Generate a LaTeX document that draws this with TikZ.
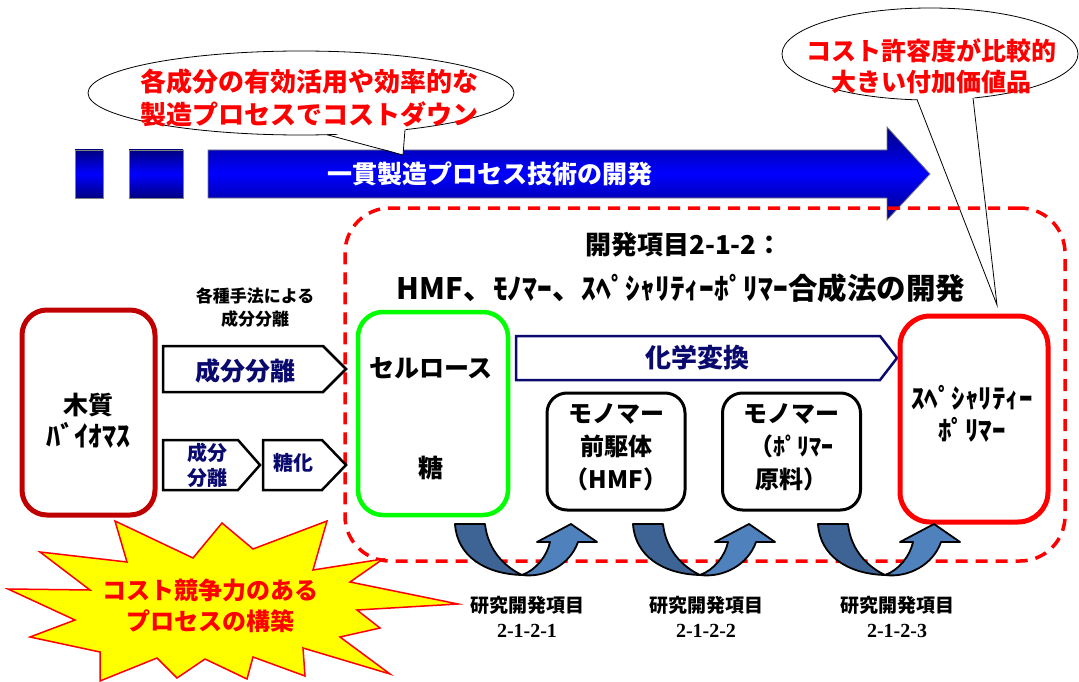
\documentclass[tikz,border=0pt]{standalone}
\usepackage{fontspec}
\setmainfont{Noto Sans CJK JP}
\newfontfamily\numfont{Liberation Serif}
\usetikzlibrary{shapes.geometric}
\definecolor{navytxt}{RGB}{10,10,110}
\definecolor{woodred}{RGB}{192,0,0}
\definecolor{bgreen}{RGB}{0,255,0}
\definecolor{arrowdark}{RGB}{62,100,150}
\definecolor{arrowlight}{RGB}{79,129,189}
\definecolor{bluedark}{RGB}{0,0,130}
\definecolor{bluemid}{RGB}{0,0,255}
\definecolor{staryellow}{RGB}{255,255,0}
\newcommand\fz[2]{\fontsize{#1}{#2}\selectfont\bfseries}
\tikzset{
  txt/.style={inner sep=0pt, align=center},
  rbox/.style={fill=white, inner sep=0pt},
  pentagon/.style={draw=black, fill=white, line width=2.5pt, line join=miter},
  bluebar/.style={shade, top color=bluedark, bottom color=bluedark, middle color=bluemid, draw=gray, line width=0.8pt},
  bubble/.style={ellipse, draw=black, fill=white, line width=0.8pt, inner sep=0pt},
  uturn/.style={draw=black, line width=1.8pt, line join=round},
}
\begin{document}
\begin{tikzpicture}[x=1pt,y=-1pt]
\useasboundingbox (0,0) rectangle (1079,682);

% ---------- blue process arrow ----------
\path[bluebar] (75,150) rectangle (103,198);
\path[bluebar] (129,150) rectangle (183,198);
\path[bluebar] (208,150) -- (887,150) -- (887,127) -- (930,174) -- (887,220) -- (887,198) -- (208,198) -- cycle;
\node[txt, white, font=\fz{25}{30}] (flow) at (490,174) {一貫製造プロセス技術の開発};

% ---------- right callout ----------
\node[bubble, minimum width=296pt, minimum height=92pt] (bubbleB) at (930,54) {};
\coordinate (tailBa) at (917,99.5);
\coordinate (tailBt) at (997,305);
\coordinate (tailBb) at (973,98);
\fill[white] (916,96) -- (tailBt) -- (974,94) -- cycle;
\draw[line width=0.8pt, line join=miter] (tailBa) -- (tailBt) -- (tailBb);
\node[txt, red, font=\fz{25}{31}] (bubbleBtxt) at (931,66) {コスト許容度が比較的\\大きい付加価値品};

% ---------- dashed development frame ----------
\node[draw=red, line width=3.5pt, dash pattern=on 12pt off 8pt, rounded corners=45pt,
      minimum width=720pt, minimum height=353pt, inner sep=0pt] (frame) at (705,384.5) {};

% ---------- left callout ----------
\node[bubble, minimum width=426pt, minimum height=84pt] (bubbleA) at (301,93) {};
\coordinate (tailAa) at (327,134.7);
\coordinate (tailAt) at (403,155);
\coordinate (tailAb) at (405,129.7);
\fill[white] (326,131) -- (tailAt) -- (406,126) -- cycle;
\draw[line width=0.8pt, line join=miter] (tailAa) -- (tailAt) -- (tailAb);
\node[txt, red, font=\fz{26}{33}] (bubbleAtxt) at (309,98) {各成分の有効活用や効率的な\\製造プロセスでコストダウン};

% ---------- title ----------
\node[txt, font=\fz{26}{32}] (title1) at (684,245) {開発項目2-1-2：};
\node[txt, font=\fz{29.5}{34}] (title2) at (681,288) {HMF、ﾓﾉﾏｰ、ｽﾍﾟｼｬﾘﾃｨｰﾎﾟﾘﾏｰ合成法の開発};

% ---------- wood biomass ----------
\node[rbox, draw=woodred, line width=5pt, rounded corners=25pt, minimum width=133pt, minimum height=205pt] (wood) at (88.5,412.5) {};
\node[txt, font=\fz{25}{32}] (woodtxt) at (88,421) {木質\\{\fontsize{28}{32}\selectfont ﾊﾞｲｵﾏｽ}};

% ---------- separation arrows ----------
\node[txt, font=\fz{17}{23}] (method) at (255,308) {各種手法による\\成分分離};
\draw[pentagon] (163,346) -- (323,346) -- (346,369) -- (323,392) -- (163,392) -- cycle;
\node[txt, navytxt, font=\fz{25}{30}] (sep) at (245,371) {成分分離};
\draw[pentagon] (163,440) -- (238,440) -- (260,465) -- (238,490) -- (163,490) -- cycle;
\node[txt, navytxt, font=\fz{20}{25}] (sepsmall) at (207,465) {成分\\分離};
\draw[pentagon] (263,440) -- (322,440) -- (346,465) -- (322,490) -- (263,490) -- cycle;
\node[txt, navytxt, font=\fz{20}{25}] (sacch) at (293,463) {糖化};

% ---------- cellulose / sugar ----------
\node[rbox, draw=bgreen, line width=4.5pt, rounded corners=25pt, minimum width=150pt, minimum height=203pt] (cell) at (433,413.5) {};
\node[txt, font=\fz{25}{30}] (celltxt) at (431,368) {セルロース};
\node[txt, font=\fz{25}{30}] (sugar) at (431,468) {糖};

% ---------- chemical conversion ----------
\draw[draw=navytxt, fill=white, line width=2.5pt, line join=miter] (516,336) -- (880,336) -- (897,358) -- (880,380) -- (516,380) -- cycle;
\node[txt, navytxt, font=\fz{26}{30}] (chem) at (697,358) {化学変換};

\node[rbox, draw=black, line width=3pt, rounded corners=20pt, minimum width=138pt, minimum height=117pt] (hmf) at (616,451.5) {};
\node[txt, font=\fz{24}{33}] (hmftxt) at (616,447) {モノマー\\前駆体\\（HMF）};
\node[rbox, draw=black, line width=3pt, rounded corners=20pt, minimum width=138pt, minimum height=117pt] (mono) at (791.5,451.5) {};
\node[txt, font=\fz{24}{33}] (monotxt) at (791,447) {モノマー\\（ﾎﾟﾘﾏｰ\\原料）};

% ---------- specialty polymer ----------
\node[rbox, draw=red, line width=5pt, rounded corners=30pt, minimum width=148pt, minimum height=206pt] (poly) at (974,419) {};
\node[txt, font=\fz{27}{32}] (polytxt) at (972,414) {ｽﾍﾟｼｬﾘﾃｨｰ\\ﾎﾟﾘﾏｰ};

% ---------- U-turn arrows ----------
\foreach \dx in {0,178,363} {
  \begin{scope}[xshift=\dx pt]
    \draw[uturn, fill=arrowdark] (455,524) .. controls (457,556) and (485,574) .. (522,575)
        .. controls (507,568) and (488,552) .. (485,524) -- cycle;
    \draw[uturn, fill=arrowlight] (522,575) .. controls (545,578) and (570,565) .. (578,542)
        -- (597,542) -- (571,524) -- (537,542) -- (550,542)
        .. controls (547,556) and (536,570) .. (522,575) -- cycle;
  \end{scope}
}

% ---------- research item labels ----------
\node[txt, font=\fz{19}{22}] (lab1) at (527,605) {研究開発項目};
\node[txt, font={\numfont\fontsize{20}{22}\selectfont\bfseries}] (num1) at (527,631) {2-1-2-1};
\node[txt, font=\fz{19}{22}] (lab2) at (706,605) {研究開発項目};
\node[txt, font={\numfont\fontsize{20}{22}\selectfont\bfseries}] (num2) at (706,631) {2-1-2-2};
\node[txt, font=\fz{19}{22}] (lab3) at (897,605) {研究開発項目};
\node[txt, font={\numfont\fontsize{20}{22}\selectfont\bfseries}] (num3) at (897,631) {2-1-2-3};

% ---------- starburst ----------
\draw[fill=staryellow, draw=red, line width=1.5pt, line join=miter]
  (115,521) -- (193,558) -- (222,523) -- (253,549) -- (327,521) -- (313,570) -- (383,559)
  -- (350,582) -- (458,604) -- (357,610) -- (380,628) -- (340,637) -- (390,674)
  -- (303,648) -- (305,676) -- (253,657) -- (247,679) -- (205,659) -- (177,678)
  -- (157,658) -- (100,681) -- (100,652) -- (30,637) -- (75,620) -- (8,589)
  -- (90,590) -- (40,552) -- (127,562) -- cycle;
\node[txt, red, font=\fz{24}{31}] (startxt) at (210,606) {コスト競争力のある\\プロセスの構築};
\end{tikzpicture}
\end{document}
